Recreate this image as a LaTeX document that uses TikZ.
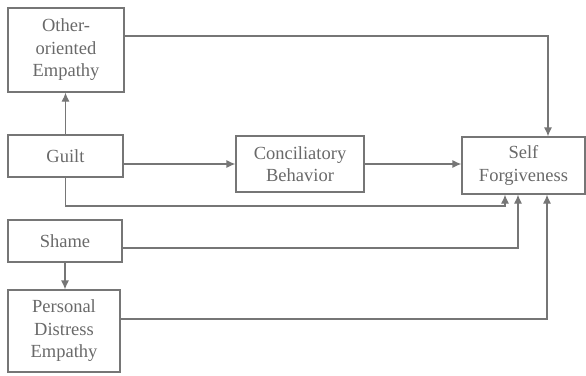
\documentclass[tikz,border=0pt]{standalone}
\usepackage{fontspec}
\setmainfont{Liberation Serif}
\usepackage{xcolor}
\definecolor{linegray}{RGB}{118,118,118}
\definecolor{textgray}{RGB}{105,105,105}
\usepackage{tikz}
\usetikzlibrary{arrows.meta,positioning,calc}

\tikzset{
  varbox/.style={draw=linegray,line width=1.2pt,text=textgray,align=center,
    font=\fontsize{18.5}{22.5}\selectfont,inner sep=0pt},
  conn/.style={draw=linegray,line width=1.2pt,-{Latex[length=9pt,width=8pt]}},
}

\begin{document}
\begin{tikzpicture}[x=1pt,y=-1pt]
    \useasboundingbox (0,0) rectangle (586,375);
    % Linke Spalte
    \node[varbox,minimum width=116pt,minimum height=84pt] (other) at (66,50) {Other-\\oriented\\Empathy};
    \node[varbox,minimum width=115pt,minimum height=42pt] (guilt) at (65.5,156) {Guilt};
    \node[varbox,minimum width=114pt,minimum height=42pt] (shame) at (65,241) {Shame};
    \node[varbox,minimum width=112pt,minimum height=82pt] (distress) at (64,331) {Personal\\Distress\\Empathy};
    % Mitte und rechts
    \node[varbox,minimum width=128pt,minimum height=56pt] (concil) at (300,164) {Conciliatory\\Behavior};
    \node[varbox,minimum width=123pt,minimum height=57pt] (self) at (523.5,165.5) {Self\\Forgiveness};

    % Pfeile
    \draw[conn] (guilt.north) -- (guilt.north |- other.south);
    \draw[conn] (shame.south) -- (shame.south |- distress.north);
    \draw[conn] (guilt.east |- concil.west) -- (concil.west);
    \draw[conn] (concil.east) -- (concil.east -| self.west);
    \draw[conn] ([yshift=14pt]other.east) -| ([xshift=24.5pt]self.north);
    \draw[conn] (guilt.south) |- (505,206) -- ([xshift=-18.5pt]self.south);
    % Shame und Distress von rechts unten
    \foreach \src/\dy/\dx in {shame/-7/-5.5, distress/12/23.5} {
        \draw[conn] ([yshift=\dy pt]\src.east) -| ([xshift=\dx pt]self.south);
    }
\end{tikzpicture}
\end{document}
